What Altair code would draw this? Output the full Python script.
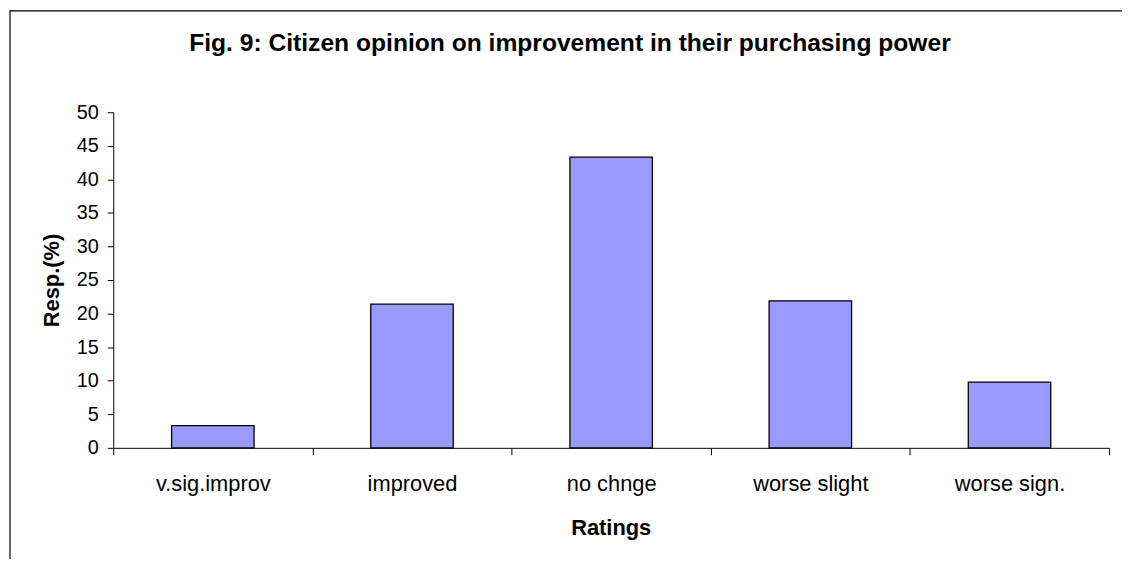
import altair as alt
import pandas as pd

categories = ["v.sig.improv", "improved", "no chnge", "worse slight", "worse sign."]
values = [3.3, 21.4, 43.3, 21.9, 9.8]
y_ticks = [0, 5, 10, 15, 20, 25, 30, 35, 40, 45, 50]
title_text = "Fig. 9: Citizen opinion on improvement in their purchasing power"

df = pd.DataFrame({"Ratings": categories, "Resp": values})

W, H = 1003, 338
FONT = "Liberation Sans"

bars = alt.Chart(df).mark_bar(
    color="#9999FF", stroke="black", strokeWidth=1.3,
    width=alt.RelativeBandSize(0.414)
).encode(
    x=alt.X("Ratings:N", sort=categories,
            scale=alt.Scale(paddingInner=0, paddingOuter=0),
            axis=alt.Axis(title="Ratings", labelAngle=0, tickBand="extent",
                          tickSize=7, labelPadding=36, labelBaseline="alphabetic",
                          labelFontSize=22, labelFont=FONT, labelColor="black",
                          titleFont=FONT, titleFontSize=22, titleFontWeight="bold",
                          titleColor="black", titleX=501, titleY=87,
                          titleBaseline="alphabetic", titleAlign="center",
                          domainColor="black", tickColor="black", grid=False)),
    y=alt.Y("Resp:Q", scale=alt.Scale(domain=[0, 50], nice=False),
            axis=alt.Axis(title="Resp.(%)", values=y_ticks, tickSize=6, labelPadding=9,
                          labelFontSize=20, labelFont=FONT, labelColor="black",
                          titleFont=FONT, titleFontSize=22, titleFontWeight="bold",
                          titleColor="black", titleX=-62, titleY=H / 2,
                          titleAngle=-90, titleBaseline="middle", titleAlign="center",
                          domainColor="black", tickColor="black", grid=False)),
)

frame_df = pd.DataFrame({"f": [0]})
frame = alt.Chart(frame_df).mark_rect(filled=False, stroke="black", strokeWidth=1.2).encode(
    x=alt.value(-104), x2=alt.value(1100), y=alt.value(-102), y2=alt.value(600)
)

title_df = pd.DataFrame({"t": [title_text]})
title = alt.Chart(title_df).mark_text(
    font=FONT, fontSize=24.8, fontWeight="bold", color="black",
    align="center", baseline="alphabetic"
).encode(text="t:N", x=alt.value(460), y=alt.value(-62))

chart = alt.layer(frame, bars, title).properties(
    width=W, height=H,
    autosize=alt.AutoSizeParams(type="none"),
    padding={"left": 106, "top": 103, "right": 13, "bottom": 110},
).configure_view(stroke=None)

chart.save("out.html", embed_options={"renderer": "svg", "actions": False})
